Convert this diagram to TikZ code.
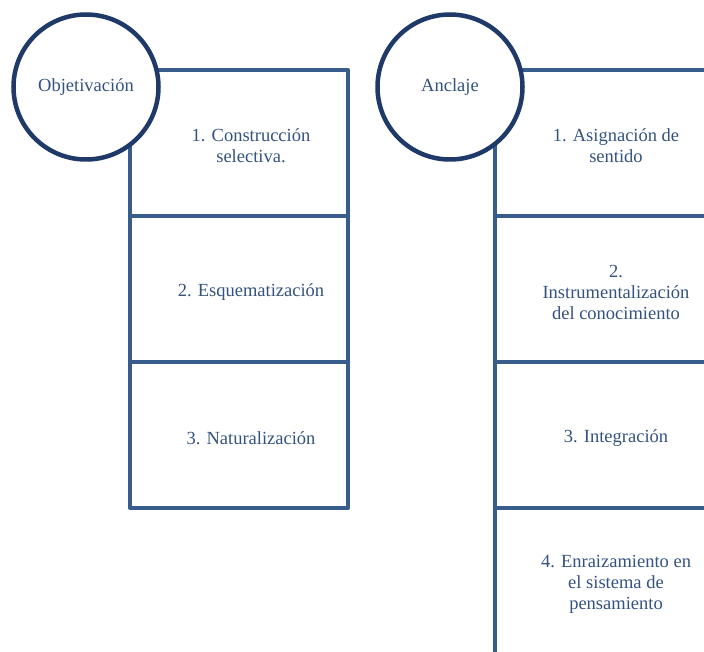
\documentclass[tikz,border=0pt]{standalone}
\usepackage{fontspec}
\setmainfont{Liberation Serif}
\usepackage{xcolor}
\definecolor{boxblue}{RGB}{56,93,140}
\definecolor{ringblue}{RGB}{31,58,104}
\definecolor{textblue}{RGB}{52,82,128}

\begin{document}
\begin{tikzpicture}[x=1pt,y=-1pt,font=\fontsize{18.5}{21}\selectfont,
  etapa/.style={text=textblue,align=center},
  marco/.style={boxblue,line width=4pt,line join=round,line cap=round},
  fase/.style={circle,draw=ringblue,line width=4.5pt,fill=white,
    minimum size=145pt,inner sep=0pt,text=textblue}]
\useasboundingbox (0,0) rectangle (704,652);
\clip (0,0) rectangle (704,652);
% Objetivacion
\draw[marco] (130,70) rectangle (348,508);
\foreach \y in {216,362} \draw[marco] (130,\y)--(348,\y);
\node[fase] (obj) at (86,87) {Objetivación};
\node[etapa] (obj1) at (251,146) {1. Construcción\\selectiva.};
\node[etapa] (obj2) at (251,292) {2. Esquematización};
\node[etapa] (obj3) at (251,438) {3. Naturalización};
% Anclaje
\draw[marco] (495,660)--(495,70)--(712,70);
\foreach \y in {216,362,508} \draw[marco] (495,\y)--(712,\y);
\node[fase] (anc) at (450,87) {Anclaje};
\node[etapa] (anc1) at (616,146) {1. Asignación de\\sentido};
\node[etapa] (anc2) at (616,292) {2.\\Instrumentalización\\del conocimiento};
\node[etapa] (anc3) at (616,438) {3. Integración};
\node[etapa] (anc4) at (616,584) {4. Enraizamiento en\\el sistema de\\pensamiento};
\end{tikzpicture}
\end{document}
